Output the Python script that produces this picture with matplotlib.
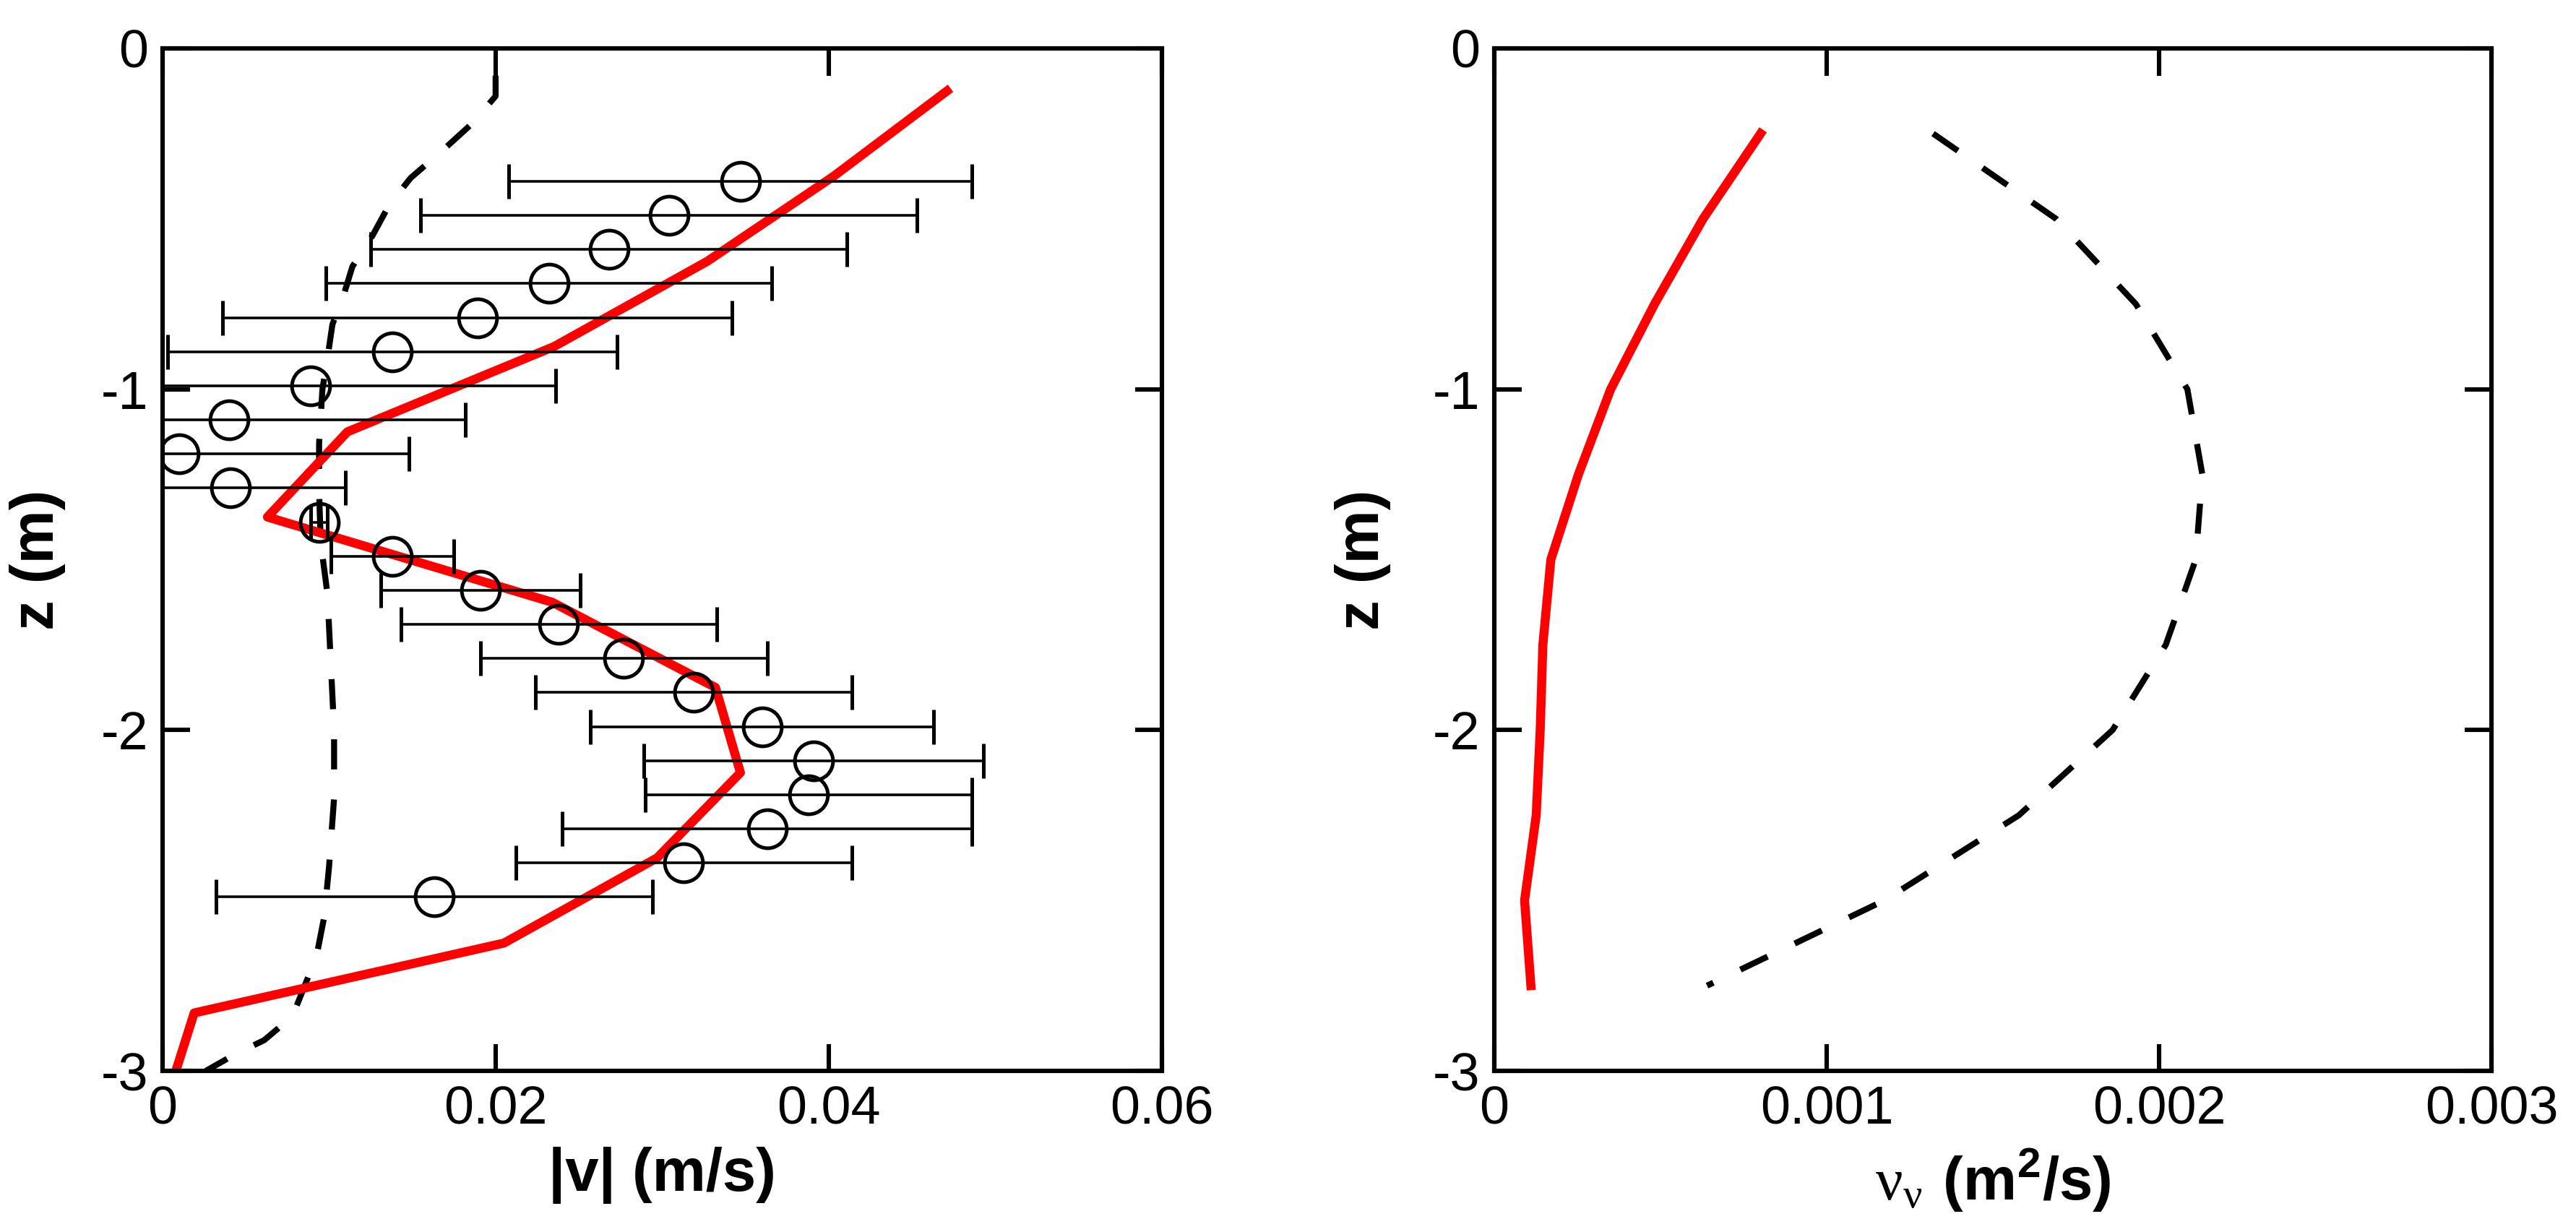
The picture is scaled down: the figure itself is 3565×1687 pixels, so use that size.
import matplotlib
matplotlib.use("Agg")
import matplotlib.pyplot as plt
import numpy as np

plt.rcParams["font.family"] = ["Liberation Sans", "DejaVu Sans"]
plt.rcParams["axes.unicode_minus"] = False
plt.rcParams["mathtext.fontset"] = "custom"
plt.rcParams["mathtext.rm"] = "Liberation Serif"
plt.rcParams["mathtext.bf"] = "Liberation Sans:bold"

# --- left panel: velocity magnitude ---
obs_z = [-0.39, -0.49, -0.59, -0.69, -0.79, -0.89, -0.99, -1.09, -1.19, -1.29, -1.39,
         -1.49, -1.59, -1.69, -1.79, -1.89, -1.99, -2.09, -2.19, -2.29, -2.39, -2.49]
obs_v = [0.0347, 0.0304, 0.0268, 0.0232, 0.0189, 0.0138, 0.0089, 0.0040, 0.0010, 0.0041, 0.0094,
         0.0138, 0.0191, 0.0238, 0.0277, 0.0319, 0.0360, 0.0391, 0.0388, 0.0363, 0.0313, 0.0163]
obs_err = [0.0139, 0.0149, 0.0143, 0.0134, 0.0153, 0.0135, 0.0147, 0.0142, 0.0138, 0.0069, 0.0005,
           0.0037, 0.0060, 0.0095, 0.0086, 0.0095, 0.0103, 0.0102, 0.0098, 0.0123, 0.0101, 0.0131]

model_z = [-0.125, -0.375, -0.625, -0.875, -1.125, -1.375, -1.625, -1.875, -2.125,
           -2.375, -2.625, -2.83, -3.0]
model_v = [0.0471, 0.0403, 0.0327, 0.0235, 0.0111, 0.0063, 0.0234, 0.0332, 0.0347,
           0.0297, 0.0205, 0.0019, 0.0008]

ref_z = [-0.08, -0.14, -0.22, -0.30, -0.38, -0.46, -0.55, -0.64, -0.72, -0.81, -0.91, -1.0,
         -1.16, -1.3, -1.45, -1.6, -1.8, -2.0, -2.2, -2.4, -2.55, -2.65, -2.73, -2.84,
         -2.91, -2.95, -3.0]
ref_v = [0.0200, 0.0200, 0.0186, 0.0168, 0.0149, 0.0136, 0.0126, 0.0114, 0.0109, 0.0102,
         0.0099, 0.0096, 0.0094, 0.0094, 0.0095, 0.0099, 0.0101, 0.0103, 0.0103, 0.0100,
         0.0097, 0.0093, 0.0087, 0.0078, 0.0061, 0.0044, 0.0026]

# --- right panel: vertical eddy viscosity ---
nu_z = [-0.25, -0.5, -0.75, -1.0, -1.25, -1.5, -1.75, -2.0, -2.25, -2.5, -2.75]
nu_model = [0.000801, 0.000628, 0.000482, 0.000350, 0.000253, 0.000170, 0.000146,
            0.000138, 0.000126, 0.000091, 0.000110]
nu_ref = [0.00132, 0.00169, 0.00193, 0.002085, 0.00213, 0.00211, 0.00202, 0.00186,
          0.001578, 0.001173, 0.00064]

z_ticks = [0, -1, -2, -3]
z_ticklabels = ["0", "-1", "-2", "-3"]
v_ticks = [0, 0.02, 0.04, 0.06]
v_ticklabels = ["0", "0.02", "0.04", "0.06"]
nu_ticks = [0, 0.001, 0.002, 0.003]
nu_ticklabels = ["0", "0.001", "0.002", "0.003"]


def style_axes(ax, xticks, xticklabels, xlim, ylabel_x):
    ax.set_xlim(*xlim)
    ax.set_ylim(-3, 0)
    ax.set_xticks(xticks)
    ax.set_xticklabels(xticklabels)
    ax.set_yticks(z_ticks)
    ax.set_yticklabels(z_ticklabels)
    ax.tick_params(direction="in", top=True, right=True, length=13.5, width=2.2,
                   labelsize=26.5, pad=7)
    for s in ax.spines.values():
        s.set_linewidth(2.2)
    ax.set_ylabel("z (m)", fontsize=30, fontweight="bold")
    ax.yaxis.set_label_coords(ylabel_x, 0.5)


fig = plt.figure(figsize=(17.825, 8.435), dpi=200)
ax1 = fig.add_axes([0.0631, 0.1215, 0.3879, 0.8388])
ax2 = fig.add_axes([0.5801, 0.1215, 0.3871, 0.8388])

ax1.plot(ref_v, ref_z, color="black", lw=3, dashes=(5.0, 5.0))
ax1.plot(model_v, model_z, color="red", lw=4.5)
ax1.errorbar(obs_v, obs_z, xerr=obs_err, fmt="o", ms=19, mfc="none", mec="black",
             mew=1.8, ecolor="black", elinewidth=1.3, capsize=8.5, capthick=1.3)
style_axes(ax1, v_ticks, v_ticklabels, (0, 0.06), -0.097)
ax1.set_xlabel("|v| (m/s)", fontsize=30, fontweight="bold", labelpad=6)

ax2.plot(nu_ref, nu_z, color="black", lw=3, dashes=(5.0, 5.0))
ax2.plot(nu_model, nu_z, color="red", lw=4.5)
style_axes(ax2, nu_ticks, nu_ticklabels, (0, 0.003), -0.104)
ax2.set_xlabel(r"$\mathrm{\nu_{\nu}}\ \mathbf{(m^2/s)}$", fontsize=30, labelpad=6)

fig.savefig("out.png", dpi=200)
